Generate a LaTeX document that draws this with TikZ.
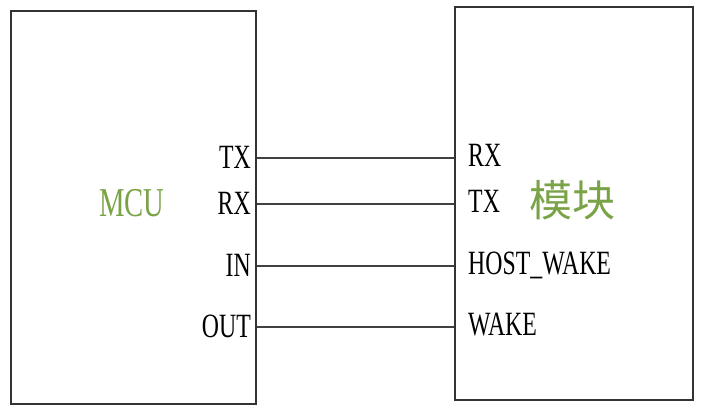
\documentclass[tikz,border=0pt]{standalone}
\usepackage{fontspec}
\setmainfont{Liberation Serif}
\newfontfamily\narrowserif[FakeStretch=0.7]{Liberation Serif}
\newfontfamily\cjk{Noto Sans CJK SC}
\usetikzlibrary{positioning}
\definecolor{chipgreen}{RGB}{122,163,72}

\tikzset{
  box/.style={draw=black!80, line width=1.5pt, inner sep=0pt},
  wire/.style={draw=black!75, line width=1.3pt},
  pinlbl/.style={font=\narrowserif\fontsize{34}{34}\selectfont, text=black, inner sep=0pt},
  chipname/.style={text=chipgreen, inner sep=0pt}
}

\begin{document}
\begin{tikzpicture}[x=1pt,y=-1pt]
 \useasboundingbox (0,0) rectangle (708,410);
 % the two blocks
 \node[box, minimum width=245pt, minimum height=393pt] (mcu) at (133.5,207.5) {};
 \node[box, minimum width=238pt, minimum height=393pt] (mod) at (574,203.5) {};
 \node[chipname, font=\narrowserif\fontsize{41}{41}\selectfont] (mcuname) at (132,203) {MCU};
 \node[chipname, font=\cjk\fontsize{43}{43}\selectfont] (modname) at (572,200) {模块};
 % signal lines with their pin names
 \foreach \y/\l/\r [count=\i] in {158/TX/RX, 204/RX/TX, 266/IN/HOST\_WAKE, 327/OUT/WAKE}{
   \draw[wire] (mcu.east |- 0,\y) -- (mod.west |- 0,\y);
   \node[pinlbl, anchor=base east] (lpin\i) at (251,\y+10) {\l};
   \node[pinlbl, anchor=base west] (rpin\i) at (468,\y+8) {\r};
 }
\end{tikzpicture}
\end{document}
